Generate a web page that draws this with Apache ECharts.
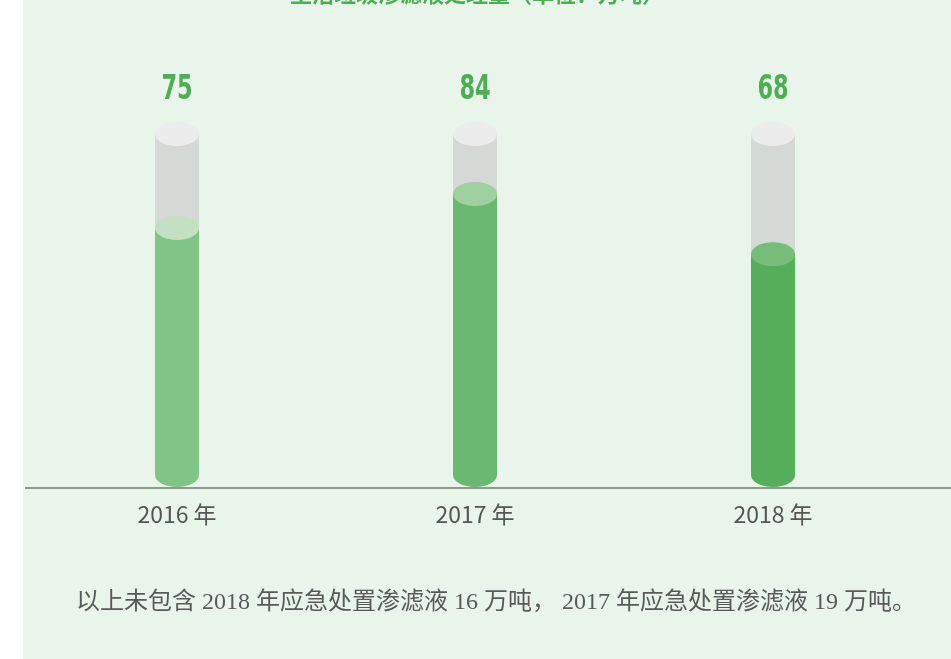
<!DOCTYPE html>
<html>
<head>
<meta charset="utf-8">
<script src="https://cdn.jsdelivr.net/npm/echarts@6/dist/echarts.min.js"></script>
<style>
  html, body { margin: 0; padding: 0; background: #ffffff; }
  #panel { position: absolute; left: 23px; top: 0; width: 928px; height: 659px; background: #e9f4ea; }
  #chart { width: 928px; height: 659px; }
</style>
</head>
<body>
<div id="panel"><div id="chart"></div></div>
<script>
// data
const years = ["2016 年", "2017 年", "2018 年"];
const volumes = [75, 84, 68];
const fullValue = 100;
const axisMin = 6;
const bodyColors = ["#80c487", "#6ab872", "#55ae5a"];
const capColors = ["#c3e0c3", "#9fd09f", "#76bd79"];
const titleText = "生活垃圾渗滤液处理量（单位：万吨）";
const noteText = "以上未包含 2018 年应急处置渗滤液 16 万吨， 2017 年应急处置渗滤液 19 万吨。";

const chart = echarts.init(document.getElementById("chart"), null, { renderer: "canvas" });

const BAR_W = 44;
const CAP_RY = 12;

function renderCylinder(params, api) {
  const idx = params.dataIndex;
  const v = api.value(1);
  const top = api.coord([api.value(0), v]);
  const full = api.coord([api.value(0), fullValue]);
  const base = api.coord([api.value(0), axisMin]);
  const cx = top[0];
  const x = cx - BAR_W / 2;
  const bodyBottom = base[1] - CAP_RY;
  const labelY = full[1] - 44;
  return {
    type: "group",
    children: [
      { type: "rect", shape: { x, y: full[1], width: BAR_W, height: bodyBottom - full[1] }, style: { fill: "#d5d9d6" } },
      { type: "ellipse", shape: { cx, cy: full[1], rx: BAR_W / 2, ry: CAP_RY }, style: { fill: "#ececec" } },
      { type: "rect", shape: { x, y: top[1], width: BAR_W, height: bodyBottom - top[1] }, style: { fill: bodyColors[idx] } },
      { type: "ellipse", shape: { cx, cy: bodyBottom, rx: BAR_W / 2, ry: CAP_RY }, style: { fill: bodyColors[idx] } },
      { type: "ellipse", shape: { cx, cy: top[1], rx: BAR_W / 2, ry: CAP_RY }, style: { fill: capColors[idx] } },
      {
        type: "text",
        scaleX: 0.68, originX: cx, originY: labelY,
        style: {
          x: cx, y: labelY, text: String(v),
          fill: "#4daf54", font: "bold 33px 'DejaVu Sans', sans-serif",
          textAlign: "center", textVerticalAlign: "middle"
        }
      }
    ]
  };
}

chart.setOption({
  animation: false,
  backgroundColor: "transparent",
  grid: { left: 5, right: 29, top: 134, bottom: 172 },
  xAxis: {
    type: "category",
    data: years,
    axisLine: { show: false },
    axisTick: { show: false },
    axisLabel: {
      margin: 16, color: "#555555", fontSize: 23,
      fontFamily: "'Liberation Sans Narrow', 'Noto Sans CJK SC', sans-serif"
    }
  },
  yAxis: { type: "value", min: axisMin, max: fullValue, show: false, splitLine: { show: false } },
  series: [{
    type: "custom",
    renderItem: renderCylinder,
    data: volumes.map((v, i) => [i, v]),
    z: 3
  }]
});

// axis baseline and texts, placed from the axis scale
const basePx = chart.convertToPixel({ gridIndex: 0 }, [0, axisMin]);
chart.setOption({
  graphic: [
    {
      type: "line", z: 1,
      shape: { x1: 2, y1: basePx[1] + 1, x2: 928, y2: basePx[1] + 1 },
      style: { stroke: "#8d988f", lineWidth: 2 }
    },
    {
      type: "text", z: 5,
      style: {
        x: 454, y: 5, text: titleText, fill: "#4daf54",
        font: "bold 22px 'Noto Sans CJK SC', sans-serif",
        textAlign: "center", textVerticalAlign: "bottom"
      }
    },
    {
      type: "text", z: 5,
      style: {
        x: 473, y: 603, text: noteText, fill: "#5a5a5a",
        font: "24px 'Liberation Serif', 'Noto Sans CJK SC', serif",
        textAlign: "center", textVerticalAlign: "middle"
      }
    }
  ]
});
</script>
</body>
</html>
